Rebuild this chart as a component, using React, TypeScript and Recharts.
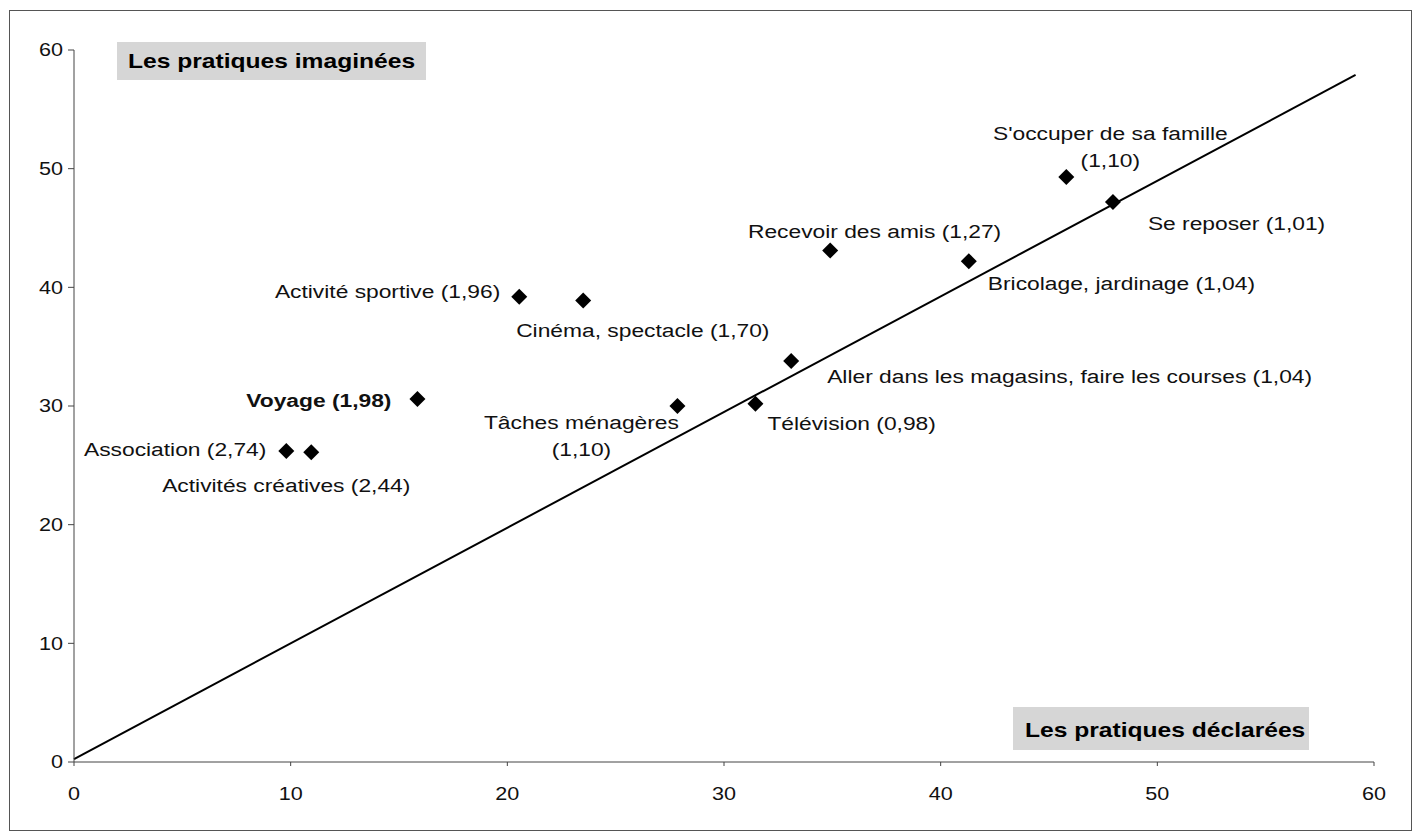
import React from "react";
import { ScatterChart, Scatter, XAxis, YAxis, ReferenceLine } from "recharts";

// activities, declared practice (x) vs imagined practice (y)
const activities = [
  "Association (2,74)",
  "Activités créatives (2,44)",
  "Voyage (1,98)",
  "Activité sportive (1,96)",
  "Cinéma, spectacle (1,70)",
  "Tâches ménagères\n(1,10)",
  "Télévision (0,98)",
  "Aller dans les magasins, faire les courses (1,04)",
  "Recevoir des amis (1,27)",
  "Bricolage, jardinage (1,04)",
  "S'occuper de sa famille\n(1,10)",
  "Se reposer (1,01)",
];
const declared = [9.8, 10.95, 15.85, 20.55, 23.5, 27.85, 31.45, 33.1, 34.9, 41.3, 45.8, 47.95];
const imagined = [26.2, 26.1, 30.6, 39.2, 38.9, 30.0, 30.2, 33.8, 43.1, 42.2, 49.3, 47.2];
const highlighted = ["Voyage (1,98)"];

const axisTicks = [0, 10, 20, 30, 40, 50, 60];
const trendX = [0, 59.15];
const trendY = [0.25, 57.9];

// label placement relative to each marker (pixels)
const labelLayout = [
  { dx: -20, dy: -2, anchor: "end" },
  { dx: -25, dy: 33, anchor: "middle" },
  { dx: -26, dy: 1, anchor: "end" },
  { dx: -19, dy: -5, anchor: "end" },
  { dx: -67, dy: 30, anchor: "start" },
  { dx: -96, dy: 16, anchor: "middle" },
  { dx: 12, dy: 20, anchor: "start" },
  { dx: 36, dy: 15, anchor: "start" },
  { dx: 171, dy: -19, anchor: "end" },
  { dx: 19, dy: 22, anchor: "start" },
  { dx: 44, dy: -44, anchor: "middle" },
  { dx: 35, dy: 21, anchor: "start" },
];

const FONT = '"Liberation Sans", Arial, sans-serif';
const STRETCH = 1.2;

const points = declared.map((x, i) => ({ x, y: imagined[i], name: activities[i], i }));

const Marker = (props: any) => {
  const { cx, cy, payload } = props;
  const lay = labelLayout[payload.i];
  const lines = String(payload.name).split("\n");
  const bold = highlighted.includes(payload.name);
  const r = 8;
  return (
    <g>
      <polygon
        points={`${cx},${cy - r} ${cx + r},${cy} ${cx},${cy + r} ${cx - r},${cy}`}
        fill="#000"
      />
      {lines.map((line, k) => (
        <text
          key={k}
          transform={`translate(${cx + lay.dx},${cy + lay.dy + k * 27}) scale(${STRETCH},1)`}
          textAnchor={lay.anchor}
          dy="0.35em"
          fontFamily={FONT}
          fontSize={19}
          fontWeight={bold ? 700 : 400}
          fill="#111"
        >
          {line}
        </text>
      ))}
    </g>
  );
};

const XTick = ({ x, y, payload }: any) => (
  <text
    transform={`translate(${x},${y}) scale(${STRETCH},1)`}
    textAnchor="middle"
    dy="0.71em"
    fontFamily={FONT}
    fontSize={18}
    fill="#111"
  >
    {payload.value}
  </text>
);

const YTick = ({ x, y, payload }: any) => (
  <text
    transform={`translate(${x},${y}) scale(${STRETCH},1)`}
    textAnchor="end"
    dy="0.355em"
    fontFamily={FONT}
    fontSize={18}
    fill="#111"
  >
    {payload.value}
  </text>
);

const boxStyle: React.CSSProperties = {
  position: "absolute",
  background: "#d6d6d6",
  fontFamily: FONT,
  fontWeight: 700,
  fontSize: 20.5,
  color: "#000",
  whiteSpace: "nowrap",
  boxSizing: "border-box",
};

const stretchStyle: React.CSSProperties = {
  display: "inline-block",
  transform: `scaleX(${STRETCH})`,
  transformOrigin: "left center",
};

export default function App() {
  return (
    <div
      style={{
        position: "absolute",
        left: 9,
        top: 10,
        width: 1401,
        height: 819,
        border: "1px solid #555",
        background: "#fff",
      }}
    >
      <ScatterChart
        width={1401}
        height={819}
        margin={{ top: 39, right: 37, bottom: 28, left: 14 }}
      >
        <XAxis
          type="number"
          dataKey="x"
          domain={[0, 60]}
          ticks={axisTicks}
          height={40}
          tickSize={4}
          tickMargin={21}
          stroke="#444"
          tick={<XTick />}
          interval={0}
        />
        <YAxis
          type="number"
          dataKey="y"
          domain={[0, 60]}
          ticks={axisTicks}
          width={50}
          tickSize={6}
          tickMargin={5}
          stroke="#444"
          tick={<YTick />}
          interval={0}
        />
        <ReferenceLine
          segment={[
            { x: trendX[0], y: trendY[0] },
            { x: trendX[1], y: trendY[1] },
          ]}
          stroke="#000"
          strokeWidth={2}
          ifOverflow="visible"
        />
        <Scatter data={points} shape={<Marker />} isAnimationActive={false} />
      </ScatterChart>
      <div style={{ ...boxStyle, left: 107, top: 31, width: 309, height: 38, paddingLeft: 11, lineHeight: "38px" }}>
        <span style={stretchStyle}>Les pratiques imaginées</span>
      </div>
      <div style={{ ...boxStyle, left: 1003, top: 696, width: 296, height: 43, paddingLeft: 12, lineHeight: "45px" }}>
        <span style={stretchStyle}>Les pratiques déclarées</span>
      </div>
    </div>
  );
}
